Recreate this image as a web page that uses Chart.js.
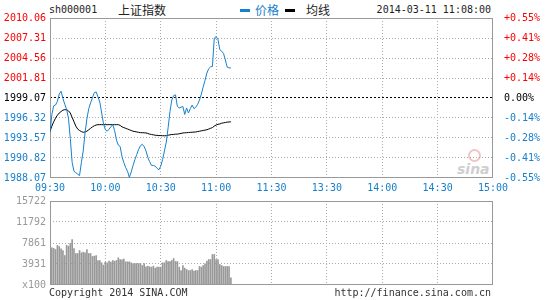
<!DOCTYPE html>
<html>
<head>
<meta charset="utf-8">
<script src="https://cdn.jsdelivr.net/npm/chart.js@4.4.1/dist/chart.umd.min.js"></script>
<style>
  body { margin: 0; background: #fff; width: 545px; height: 300px; overflow: hidden; position: relative;
         font-family: "DejaVu Sans Mono", monospace; font-size: 10px; color: #222; }
  .t { position: absolute; white-space: nowrap; line-height: 12px; }
  .cjk { font-family: "Noto Sans CJK SC", sans-serif; font-size: 12px; line-height: 14px; }
  .mark { position: absolute; height: 3px; width: 10px; }
  #main { position: absolute; left: 0; top: 0; width: 545px; height: 196px; }
  #vol { position: absolute; left: 0; top: 190px; width: 545px; height: 110px; }
  .sina { position: absolute; left: 457px; top: 161px; font: italic bold 14px "DejaVu Sans", sans-serif; color: #cfcfcf; }
  .eye { position: absolute; left: 468px; top: 149px; width: 9px; height: 9px; border-radius: 50%;
         border: 2px solid #f2c4c4; background: #fff; }
</style>
</head>
<body>
<div class="t" style="left:49px;top:4px;">sh000001</div>
<div class="t cjk" style="left:118px;top:3px;">上证指数</div>
<div class="mark" style="left:240px;top:9px;background:#1780cc;"></div>
<div class="t cjk" style="left:255px;top:3px;color:#1780cc;">价格</div>
<div class="mark" style="left:285px;top:9px;background:#000;"></div>
<div class="t cjk" style="left:306px;top:3px;">均线</div>
<div class="t" style="right:54px;top:4px;">2014-03-11 11:08:00</div>
<div class="eye"></div>
<div class="sina">sina</div>
<div id="main"><canvas id="main-chart"></canvas></div>
<div id="vol"><canvas id="vol-chart"></canvas></div>
<div class="t" style="left:49px;top:287px;color:#333;">Copyright 2014 SINA.COM</div>
<div class="t" style="right:54px;top:287px;color:#333;">http://finance.sina.com.cn</div>
<script>
const PREV_CLOSE = 1999.07;
const PRICE_TICKS = [2010.06, 2007.31, 2004.56, 2001.81, 1999.07, 1996.32, 1993.57, 1990.82, 1988.07];
const PCT_LABELS = ["+0.55%", "+0.41%", "+0.28%", "+0.14%", "0.00%", "-0.14%", "-0.28%", "-0.41%", "-0.55%"];
const TIME_TICKS = [0, 30, 60, 90, 120, 150, 180, 210, 240];
const TIME_LABELS = ["09:30", "10:00", "10:30", "11:00", "11:30", "13:30", "14:00", "14:30", "15:00"];
const VOL_TICKS = [15722, 11792, 7861, 3931, 0];
const VOL_LABELS = ["15722", "11792", "7861", "3931", "x100"];

// one value per minute from 09:30 to 11:08
const price = [
  1994.3, 1996.8, 1998.0, 1998.1, 1998.6, 1999.6, 2000.0, 1999.0, 1998.2, 1997.5,
  1996.3, 1993.5, 1990.2, 1989.0, 1988.8, 1988.6, 1988.4, 1990.2, 1991.8, 1994.3,
  1996.2, 1997.6, 1998.4, 1999.1, 1999.8, 1999.9, 1999.2, 1998.5, 1997.0, 1995.5,
  1994.7, 1994.5, 1994.8, 1995.1, 1995.4, 1994.6, 1993.3, 1992.6, 1992.4, 1991.0,
  1990.2, 1989.5, 1989.0, 1988.15, 1988.9, 1989.8, 1990.6, 1991.3, 1992.0, 1992.5,
  1992.7, 1992.4, 1991.8, 1990.9, 1990.3, 1989.8, 1989.8, 1989.7, 1989.4, 1989.2,
  1989.7, 1990.6, 1991.8, 1993.0, 1995.0, 1997.2, 1998.8, 1999.4, 1999.5, 1997.9,
  1997.7, 1997.8, 1997.9, 1996.8, 1997.7, 1997.0, 1997.6, 1998.1, 1997.6, 1997.8,
  1998.2, 1998.8, 1999.6, 2000.6, 2001.5, 2002.5, 2003.1, 2003.35, 2003.4, 2007.3,
  2007.5, 2007.1, 2005.7, 2005.5, 2005.2, 2004.3, 2003.3, 2003.2, 2003.2
];
const avgLine = [
  1994.5, 1995.2, 1995.8, 1996.3, 1996.7, 1997.0, 1997.2, 1997.4, 1997.46, 1997.45,
  1997.3, 1997.0, 1996.4, 1995.8, 1995.2, 1994.8, 1994.6, 1994.45, 1994.35, 1994.4,
  1994.5, 1994.7, 1994.9, 1995.1, 1995.25, 1995.35, 1995.4, 1995.4, 1995.4, 1995.4,
  1995.4, 1995.4, 1995.4, 1995.4, 1995.4, 1995.4, 1995.4, 1995.4, 1995.3, 1995.1,
  1995.0, 1994.9, 1994.8, 1994.7, 1994.6, 1994.5, 1994.45, 1994.4, 1994.35, 1994.3,
  1994.3, 1994.28, 1994.26, 1994.2, 1994.1, 1994.05, 1994.0, 1993.95, 1993.93, 1993.9,
  1993.9, 1993.88, 1993.88, 1993.88, 1993.95, 1994.0, 1994.05, 1994.06, 1994.1, 1994.1,
  1994.15, 1994.2, 1994.26, 1994.28, 1994.3, 1994.32, 1994.34, 1994.36, 1994.38, 1994.4,
  1994.45, 1994.5, 1994.55, 1994.6, 1994.65, 1994.7, 1994.8, 1994.9, 1995.0, 1995.2,
  1995.35, 1995.45, 1995.5, 1995.6, 1995.65, 1995.7, 1995.75, 1995.77, 1995.8
];
const volume = [
  15722, 6960, 6840, 6650, 7400, 7210, 6780, 6460, 5520, 7400,
  7270, 7770, 8520, 6840, 5900, 5900, 6460, 6020, 6150, 6020,
  6650, 5900, 5900, 5340, 5400, 5520, 4590, 4590, 4150, 3710,
  4270, 4150, 4460, 4270, 4590, 4460, 4590, 5090, 4780, 4710,
  4840, 4340, 4340, 4340, 4150, 4020, 4020, 4020, 4020, 4020,
  3650, 4020, 3400, 3530, 3400, 3340, 3530, 3150, 3340, 3340,
  3340, 4150, 4150, 4590, 4400, 4400, 4590, 4960, 4400, 4400,
  3340, 2710, 3650, 3150, 2900, 2710, 2710, 2900, 2590, 2710,
  2710, 3460, 3340, 3650, 3960, 4460, 4770, 4770, 5710, 5710,
  4770, 4770, 3840, 3650, 3460, 3460, 3460, 3460, 1340
];

const BLUE = "#1780cc";
const RED = "#ff0000";
const GRID = "#aaaaaa";
const FONT = { family: "'DejaVu Sans Mono', monospace", size: 10 };

const toPoints = (arr) => arr.map((v, i) => ({ x: i, y: v }));
const setTicks = (values) => (scale) => { scale.ticks = values.map((v) => ({ value: v })); };
const priceColor = (v) => (v > PREV_CLOSE + 0.001 ? RED : v < PREV_CLOSE - 0.001 ? BLUE : "#000");

const frame = {
  id: "frame",
  beforeDatasetsDraw(chart) {
    const { ctx, chartArea: a } = chart;
    ctx.save();
    ctx.strokeStyle = "#999";
    ctx.lineWidth = 1;
    ctx.strokeRect(a.left + 0.5, a.top + 0.5, a.right - a.left - 1, a.bottom - a.top - 1);
    ctx.restore();
  }
};

const timeAxis = (showLabels, height) => ({
  type: "linear",
  min: 0,
  max: 240,
  offset: false,
  afterBuildTicks: setTicks(TIME_TICKS),
  afterFit: (s) => { s.height = height; },
  grid: {
    drawTicks: false,
    offset: false,
    color: (c) => (c.tick && (c.tick.value === 0 || c.tick.value === 240) ? "rgba(0,0,0,0)" : GRID)
  },
  border: { display: false, dash: [1, 2] },
  ticks: {
    display: showLabels,
    autoSkip: false,
    maxRotation: 0,
    padding: 4,
    color: BLUE,
    font: FONT,
    callback: (v, i) => TIME_LABELS[i]
  }
});

new Chart(document.getElementById("main-chart"), {
  type: "line",
  data: {
    datasets: [
      { data: toPoints(price), borderColor: BLUE, borderWidth: 1, pointRadius: 0, tension: 0, yAxisID: "y" },
      { data: toPoints(avgLine), borderColor: "#000", borderWidth: 1, pointRadius: 0, tension: 0, yAxisID: "y" }
    ]
  },
  options: {
    responsive: true,
    maintainAspectRatio: false,
    animation: false,
    events: [],
    layout: { padding: { top: 18, left: 0, right: 0, bottom: 0 } },
    plugins: { legend: { display: false }, tooltip: { enabled: false } },
    scales: {
      x: timeAxis(true, 18),
      y: {
        type: "linear",
        position: "left",
        min: 1988.07,
        max: 2010.06,
        afterBuildTicks: setTicks(PRICE_TICKS.slice().reverse()),
        afterFit: (s) => { s.width = 50; },
        grid: {
          drawTicks: false,
          color: (c) => {
            if (!c.tick) return GRID;
            const v = c.tick.value;
            if (v === PRICE_TICKS[0] || v === PRICE_TICKS[8]) return "rgba(0,0,0,0)";
            return v === PREV_CLOSE ? "#000" : GRID;
          }
        },
        border: { display: false, dash: (c) => (c.tick && c.tick.value === PREV_CLOSE ? [2, 2] : [1, 2]) },
        ticks: {
          padding: 4,
          font: FONT,
          color: (c) => priceColor(c.tick.value),
          callback: (v) => v.toFixed(2)
        }
      },
      y2: {
        type: "linear",
        position: "right",
        min: 1988.07,
        max: 2010.06,
        afterBuildTicks: setTicks(PRICE_TICKS.slice().reverse()),
        afterFit: (s) => { s.width = 52; },
        grid: { display: false },
        border: { display: false },
        ticks: {
          padding: 3,
          font: FONT,
          color: (c) => priceColor(c.tick.value),
          callback: (v) => PCT_LABELS[PRICE_TICKS.indexOf(v)]
        }
      }
    }
  },
  plugins: [frame]
});

new Chart(document.getElementById("vol-chart"), {
  type: "bar",
  data: {
    datasets: [
      { data: toPoints(volume), backgroundColor: "#999", barThickness: 1, borderWidth: 0 }
    ]
  },
  options: {
    responsive: true,
    maintainAspectRatio: false,
    animation: false,
    events: [],
    layout: { padding: { top: 11, left: 0, right: 52, bottom: 0 } },
    plugins: { legend: { display: false }, tooltip: { enabled: false } },
    scales: {
      x: timeAxis(false, 15),
      y: {
        type: "linear",
        min: 0,
        max: 15722,
        afterBuildTicks: setTicks(VOL_TICKS.slice().reverse()),
        afterFit: (s) => { s.width = 50; },
        grid: {
          drawTicks: false,
          color: (c) => (c.tick && (c.tick.value === 0 || c.tick.value === 15722) ? "rgba(0,0,0,0)" : GRID)
        },
        border: { display: false, dash: [1, 2] },
        ticks: {
          padding: 4,
          font: FONT,
          color: "#999",
          callback: (v) => VOL_LABELS[VOL_TICKS.indexOf(v)]
        }
      }
    }
  },
  plugins: [frame]
});
</script>
</body>
</html>
